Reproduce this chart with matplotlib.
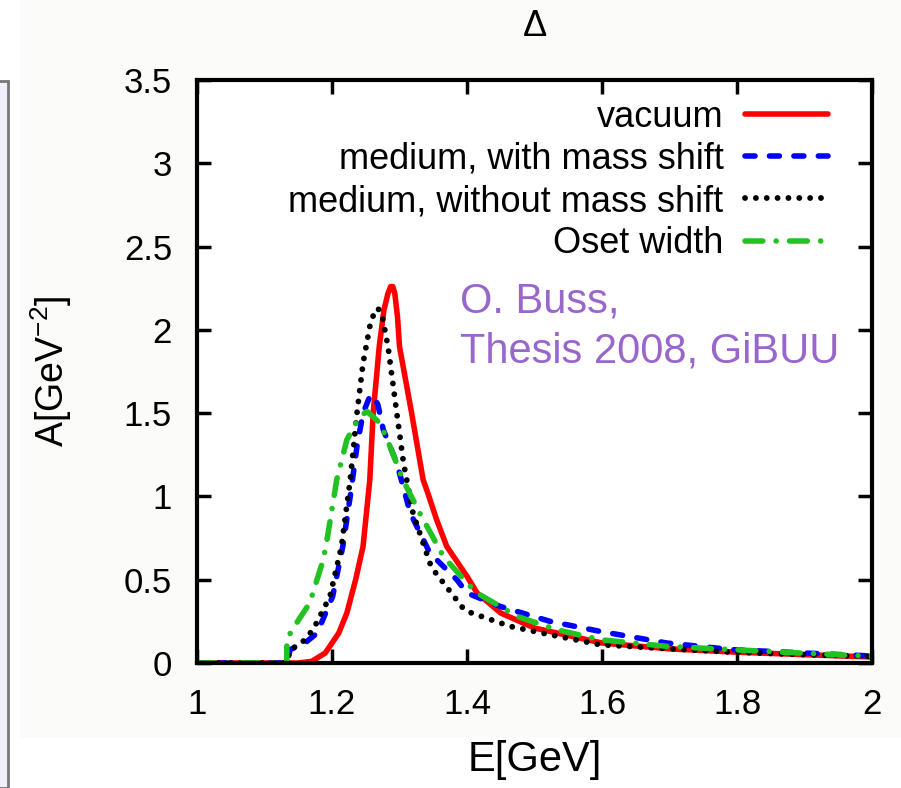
import matplotlib
matplotlib.use("Agg")
import matplotlib.pyplot as plt
from matplotlib.patches import Rectangle

plt.rcParams['font.family'] = ['Liberation Sans', 'DejaVu Sans']

# Data (E in GeV, A in GeV^-2)
E_vac = [1.0, 1.15, 1.17, 1.19, 1.21, 1.222, 1.235, 1.246, 1.256, 1.261, 1.27, 1.277, 1.283, 1.287, 1.290,
         1.293, 1.297, 1.30, 1.318, 1.335, 1.342, 1.355, 1.37, 1.40, 1.415, 1.45, 1.50, 1.60, 1.70, 1.80,
         1.90, 2.0]
A_vac = [0.0, 0.0, 0.01, 0.06, 0.18, 0.30, 0.50, 0.70, 1.10, 1.50, 1.90, 2.12, 2.22, 2.26, 2.26,
         2.22, 2.08, 1.90, 1.50, 1.10, 1.02, 0.86, 0.70, 0.52, 0.42, 0.30, 0.21, 0.12, 0.085, 0.065,
         0.05, 0.036]

E_ms = [1.0, 1.133, 1.138, 1.16, 1.178, 1.201, 1.216, 1.227, 1.237, 1.246, 1.255, 1.261, 1.268, 1.276,
        1.296, 1.316, 1.345, 1.385, 1.40, 1.449, 1.523, 1.597, 1.696, 1.794, 1.90, 2.0]
A_ms = [0.0, 0.0, 0.08, 0.12, 0.18, 0.40, 0.70, 1.00, 1.30, 1.50, 1.59, 1.61, 1.55, 1.40,
        1.20, 0.90, 0.66, 0.50, 0.42, 0.34, 0.25, 0.19, 0.12, 0.08, 0.06, 0.042]

E_nms = [1.0, 1.133, 1.138, 1.155, 1.172, 1.197, 1.214, 1.227, 1.237, 1.246, 1.256, 1.263, 1.268, 1.274,
         1.283, 1.296, 1.306, 1.320, 1.345, 1.35, 1.394, 1.40, 1.464, 1.523, 1.597, 1.70, 1.79, 1.90, 2.0]
A_nms = [0.0, 0.0, 0.08, 0.12, 0.20, 0.40, 0.70, 1.10, 1.50, 1.80, 2.02, 2.11, 2.13, 2.09,
         1.90, 1.50, 1.20, 0.90, 0.60, 0.56, 0.33, 0.31, 0.22, 0.17, 0.11, 0.085, 0.066, 0.05, 0.04]

E_oset = [1.0, 1.133, 1.1331, 1.141, 1.167, 1.187, 1.193, 1.207, 1.222, 1.241, 1.252, 1.271, 1.286,
          1.305, 1.330, 1.365, 1.40, 1.415, 1.474, 1.533, 1.597, 1.696, 1.794, 1.893, 2.0]
A_oset = [0.0, 0.0, 0.14, 0.20, 0.36, 0.62, 0.75, 1.10, 1.34, 1.48, 1.51, 1.44, 1.30,
          1.10, 0.90, 0.64, 0.48, 0.42, 0.28, 0.20, 0.14, 0.10, 0.08, 0.06, 0.04]

labels = ["vacuum", "medium, with mass shift", "medium, without mass shift", "Oset width"]
x_ticks = [1, 1.2, 1.4, 1.6, 1.8, 2]
x_ticklabels = ["1", "1.2", "1.4", "1.6", "1.8", "2"]
y_ticks = [0, 0.5, 1, 1.5, 2, 2.5, 3, 3.5]
y_ticklabels = ["0", "0.5", "1", "1.5", "2", "2.5", "3", "3.5"]

W, H = 901, 788
fig = plt.figure(figsize=(W / 100, H / 100), dpi=100, facecolor="white")
# light off-white background band and left neighbouring panel
fig.patches.append(Rectangle((20 / W, 50 / H), (W - 20) / W, (H - 50) / H, transform=fig.transFigure,
                             facecolor="#fbfbfa", edgecolor="none", zorder=-10))
fig.patches.append(Rectangle((-0.01, 0), 8 / W + 0.01, (H - 81) / H, transform=fig.transFigure,
                             facecolor="#f0f0fc", edgecolor="#777777", linewidth=2, zorder=-9))

ax = fig.add_axes([197 / W, 1 - 663 / H, (872 - 197) / W, (663 - 80) / H])
ax.set_facecolor("white")

ax.plot(E_vac, A_vac, color="#ff0000", lw=4, label=labels[0], solid_capstyle="round", solid_joinstyle="round")
ax.plot(E_ms, A_ms, color="#0000ff", lw=4, ls=(0, (1.8, 2.6)), label=labels[1], dash_capstyle="round")
ax.plot(E_nms, A_nms, color="black", lw=4.2, ls=(0, (0.01, 1.85)), label=labels[2], dash_capstyle="round")
ax.plot(E_oset, A_oset, color="#22c222", lw=4, ls=(0, (3.2, 2.4, 0.01, 2.4)), label=labels[3],
        dash_capstyle="round")

ax.set_xlim(1, 2)
ax.set_ylim(0, 3.5)
ax.set_xticks(x_ticks)
ax.set_xticklabels(x_ticklabels)
ax.set_yticks(y_ticks)
ax.set_yticklabels(y_ticklabels)
ax.tick_params(direction="in", length=10, width=2.5, top=True, right=True, labelsize=25, pad=18)
for s in ax.spines.values():
    s.set_linewidth(3)

ax.set_xlabel("E[GeV]", fontsize=30, labelpad=14)
ax.set_ylabel(r"A[GeV$^{\mathregular{-2}}$]", fontsize=27, labelpad=36)
ax.set_title("Δ", fontsize=26, pad=32)

leg = ax.legend(loc="upper right", frameon=False, fontsize=26, markerfirst=False,
                handlelength=2.3, handletextpad=0.58, labelspacing=0.2,
                borderaxespad=0.0, bbox_to_anchor=(0.9556, 0.991))
for t in leg.get_texts():
    t.set_ha("right")

ax.text(0.3896, 0.602, "O. Buss,", transform=ax.transAxes, color="#9966cc",
        fontsize=30, va="baseline", ha="left")
ax.text(0.3896, 0.516, "Thesis 2008, GiBUU", transform=ax.transAxes, color="#9966cc",
        fontsize=30, va="baseline", ha="left")

fig.savefig("out.png", dpi=100, facecolor=fig.get_facecolor())
